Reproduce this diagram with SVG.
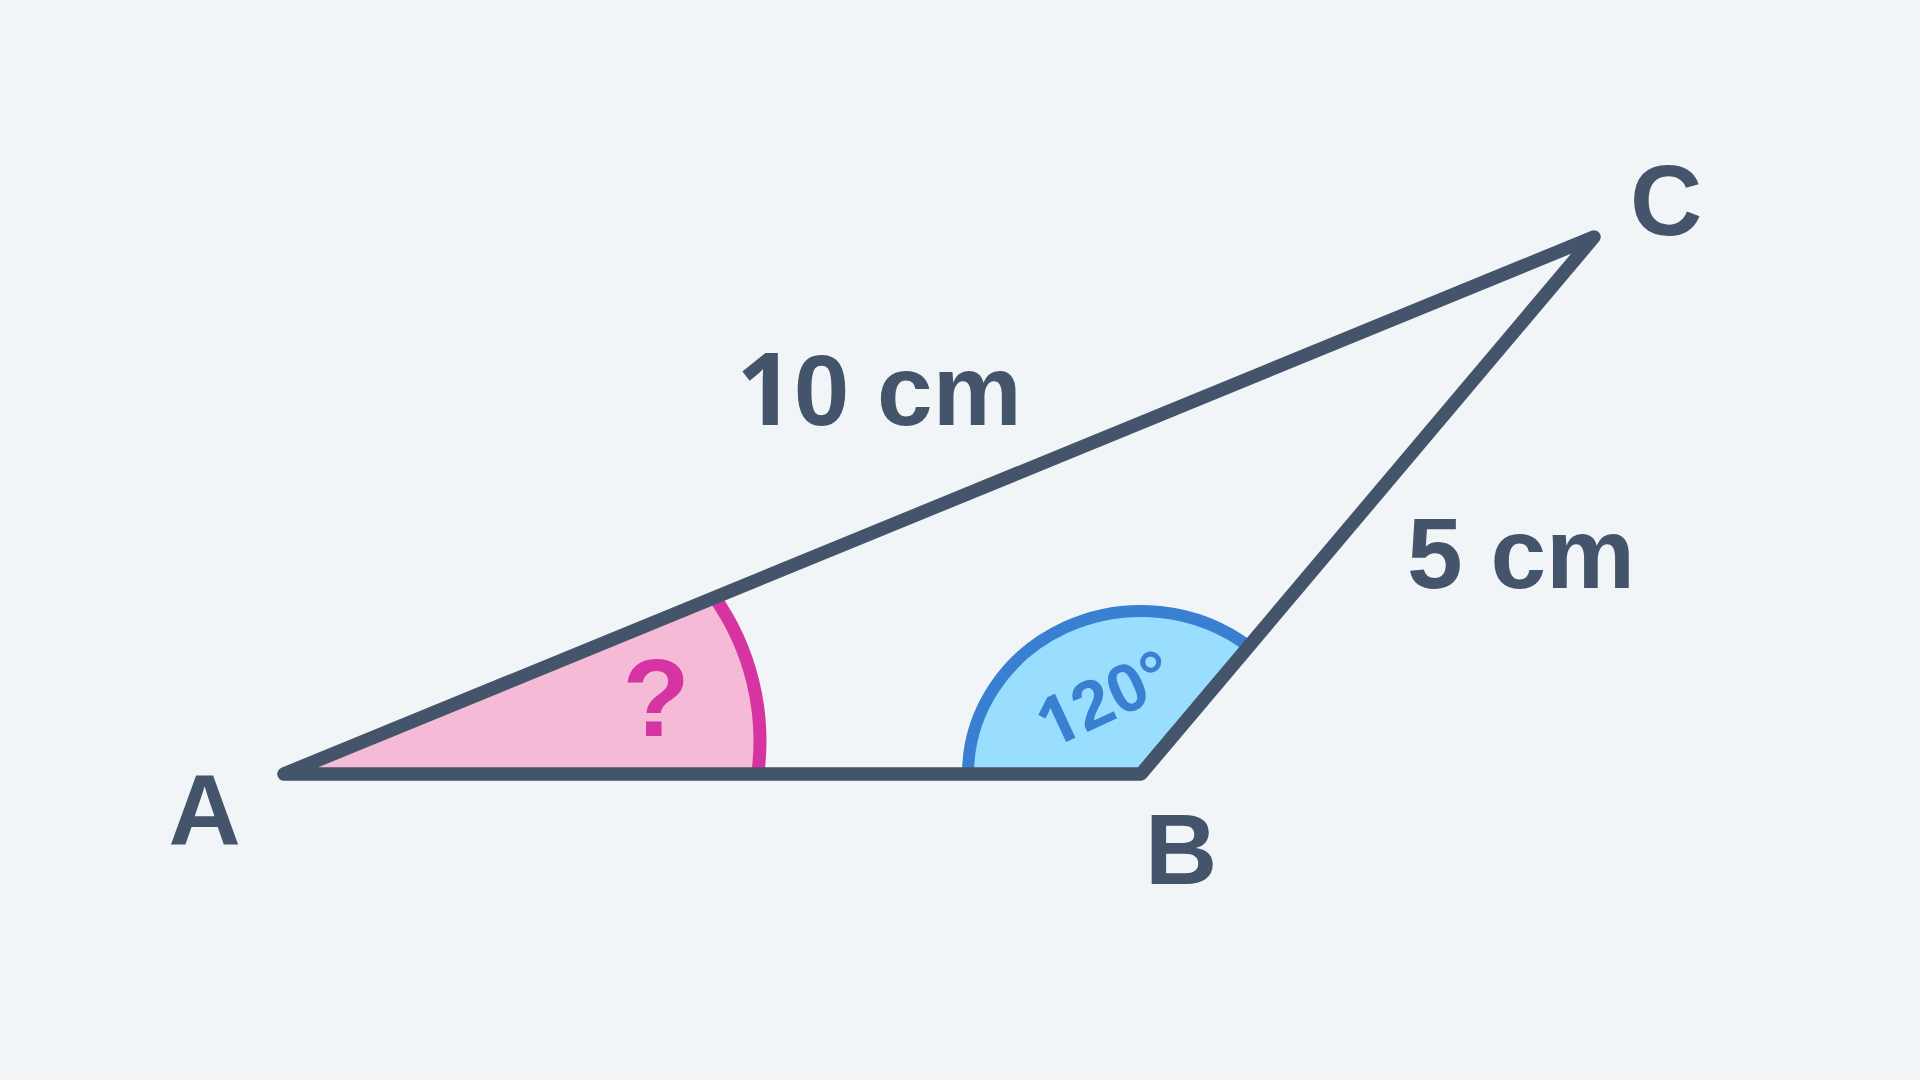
<svg xmlns="http://www.w3.org/2000/svg" width="1920" height="1080" viewBox="0 0 1920 1080">
<style>
.lbl{font-family:"Liberation Sans",Arial,Helvetica,sans-serif;font-weight:bold;fill:#44546B;text-anchor:middle}
.one{font-family:"Noto Sans","Liberation Sans",sans-serif;font-weight:bold}
.edge{fill:none;stroke:#44546B;stroke-width:13.5;stroke-linecap:round;stroke-linejoin:round}
</style>
<rect x="0" y="0" width="1920" height="1080" fill="#F2F5F7"/>
<g id="angle-A">
<path d="M 284 774 L 757.8 774 A 250 250 0 0 0 714.5 597.3 Z" fill="#F5BAD5"/>
<path d="M 757.8 774 A 250 250 0 0 0 714.5 597.3" fill="none" stroke="#D633A3" stroke-width="13"/>
<text x="656" y="736" font-size="110" class="lbl" style="fill:#D633A3">?</text>
</g>
<g id="angle-B">
<path d="M 1141 774 L 968 774 A 173 163 0 0 1 1248.7 646.4 Z" fill="#99DDFF"/>
<path d="M 968 774 A 173 163 0 0 1 1248.7 646.4" fill="none" stroke="#3A80D2" stroke-width="12"/>
<g transform="translate(1106,697) rotate(-25)">
<text x="-2" y="24" font-size="68" class="lbl" style="fill:#3A80D2"><tspan class="one">1</tspan>20°</text>
</g>
</g>
<g id="connectors">
<path class="edge" d="M 284 774 L 1141 774 L 1594 237 Z"/>
</g>
<g id="node-A"><text x="204.5" y="845" font-size="100" class="lbl">A</text></g>
<g id="node-B"><text x="1181" y="884" font-size="100" class="lbl">B</text></g>
<g id="node-C"><text x="1666" y="235" font-size="100" class="lbl">C</text></g>
<g id="label-AC"><text x="879" y="425" font-size="100" class="lbl"><tspan class="one">1</tspan>0 cm</text></g>
<g id="label-BC"><text x="1521" y="588" font-size="100" class="lbl">5 cm</text></g>
</svg>
